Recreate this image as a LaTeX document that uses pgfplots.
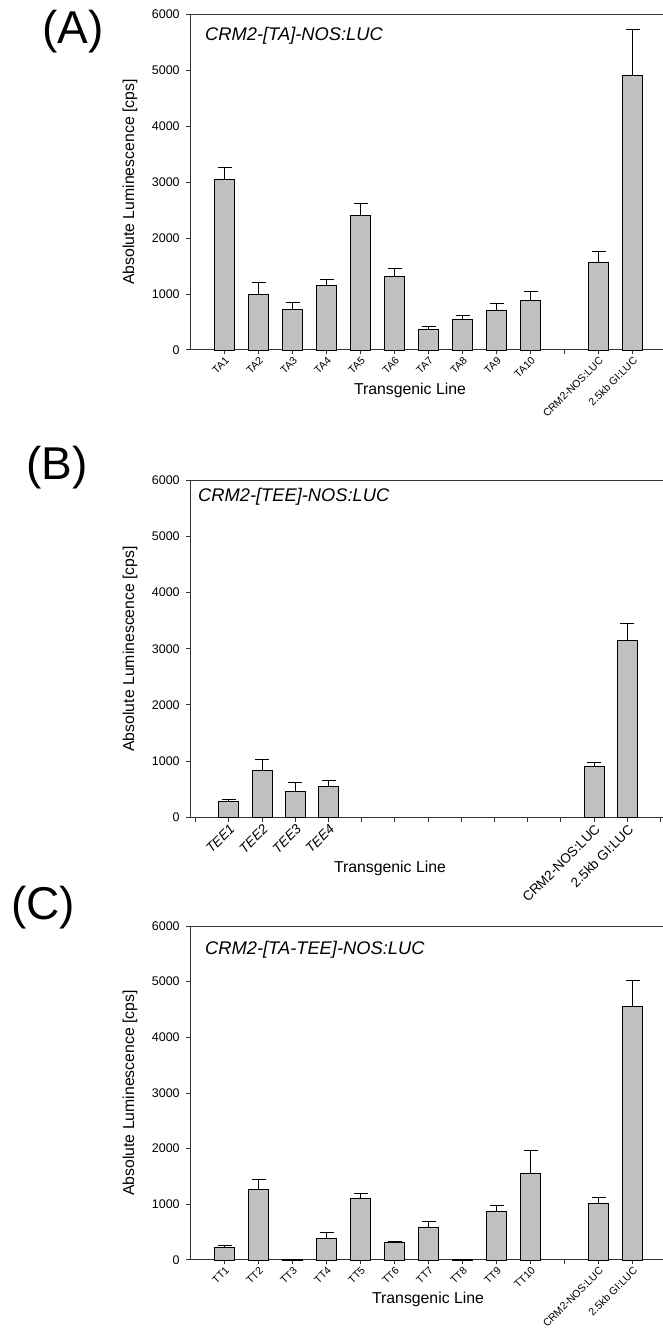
\documentclass[border=0pt]{standalone}
\usepackage{pgfplots}
\pgfplotsset{compat=1.18}
\usepackage{fontspec}
\setmainfont{Liberation Sans}
\definecolor{barfill}{HTML}{C0C0C0}

\pgfplotstableread{
x y e
1 3050 210
2 1000 200
3 727 130
4 1156 107
5 2400 220
6 1317 143
7 369 48
8 542 78
9 715 119
10 888 161
12 1573 191
13 4898 834
}\dataA

\pgfplotstableread{
x y e
1 285 30
2 831 190
3 463 154
4 552 101
12 908 65
13 3145 309
}\dataB

\pgfplotstableread{
x y e
1 228 30
2 1269 180
3 10 0
4 395 102
5 1102 84
6 311 24
7 593 102
8 10 0
9 874 108
10 1563 413
12 1018 102
13 4551 473
}\dataC

\pgfplotsset{
 panel/.style={
  scale only axis, width=473.5pt,
  ymin=0, ymax=6000, ytick={0,1000,...,6000},
  xtick pos=bottom, ytick pos=left, tick align=outside,
  major tick length=4.5pt,
  axis line style={line width=1pt, black!80},
  every tick/.style={line width=1pt, black!80},
  scaled y ticks=false,
  /pgf/number format/assume math mode=true,
  /pgf/number format/set thousands separator={},
  yticklabel style={font=\fontsize{12.5}{14}\selectfont, xshift=-3pt},
  every axis y label/.style={at={(axis description cs:-0.1282,0.5)},rotate=90,anchor=center,font=\fontsize{15.8}{18}\selectfont},
  ylabel={Absolute Luminescence [cps]},
  clip=false,
  xticklabel style={rotate=45, anchor=north east, inner sep=1pt},
 },
 bars/.style={ybar, bar width=0.6, fill=barfill, draw=black, line width=0.9pt,
   error bars/.cd, y dir=plus, y explicit,
   error bar style={line width=1pt, black},
   error mark options={rotate=90, mark size=7pt, line width=1pt, black}},
}

\begin{document}
\begin{tikzpicture}
\useasboundingbox (0pt,0pt) rectangle (662pt,1330pt);

% (A)
\begin{axis}[panel, at={(190.7pt,980pt)}, anchor=south west, height=335.7pt,
  xmin=0, xmax=13.93, xtick={1,...,13},
  xticklabels={TA1,TA2,TA3,TA4,TA5,TA6,TA7,TA8,TA9,TA10,{},CRM2-NOS:LUC,2.5kb GI:LUC},
  xticklabel style={font=\fontsize{10.5}{12}\selectfont}]
\addplot[bars] table[x=x, y=y, y error=e] {\dataA};
\node[anchor=west, inner sep=0pt, font=\fontsize{18.3}{22}\selectfont\itshape] at (axis description cs:0.0302,0.9363) {CRM2-[TA]-NOS:LUC};
\node[font=\fontsize{15.8}{18}\selectfont] at (axis description cs:0.4631,-0.1192) {Transgenic Line};
\end{axis}

% (B)
\begin{axis}[panel, at={(190.7pt,512.7pt)}, anchor=south west, height=337pt,
  xmin=-0.15, xmax=14.11, xtick={0,...,14},
  xticklabels={{},\textit{TEE1},\textit{TEE2},\textit{TEE3},\textit{TEE4},{},{},{},{},{},{},{},CRM2-NOS:LUC,2.5kb GI:LUC,{}},
  xticklabel style={font=\fontsize{13.5}{15}\selectfont}]
\addplot[bars] table[x=x, y=y, y error=e] {\dataB};
\node[anchor=west, inner sep=0pt, font=\fontsize{18.3}{22}\selectfont\itshape] at (axis description cs:0.0154,0.9504) {CRM2-[TEE]-NOS:LUC};
\node[font=\fontsize{15.8}{18}\selectfont] at (axis description cs:0.4209,-0.1504) {Transgenic Line};
\end{axis}

% (C)
\begin{axis}[panel, at={(190.7pt,70pt)}, anchor=south west, height=334pt,
  xmin=0, xmax=13.93, xtick={1,...,13},
  xticklabels={TT1,TT2,TT3,TT4,TT5,TT6,TT7,TT8,TT9,TT10,{},CRM2-NOS:LUC,2.5kb GI:LUC},
  xticklabel style={font=\fontsize{10.5}{12}\selectfont}]
\addplot[bars] table[x=x, y=y, y error=e] {\dataC};
\node[anchor=west, inner sep=0pt, font=\fontsize{18.3}{22}\selectfont\itshape] at (axis description cs:0.0302,0.928) {CRM2-[TA-TEE]-NOS:LUC};
\node[font=\fontsize{15.8}{18}\selectfont] at (axis description cs:0.5012,-0.1168) {Transgenic Line};
\end{axis}

\node[font=\fontsize{46}{50}\selectfont] at (73pt,1298pt) {(A)};
\node[font=\fontsize{46}{50}\selectfont] at (57pt,862pt) {(B)};
\node[font=\fontsize{46}{50}\selectfont] at (43pt,422pt) {(C)};
\end{tikzpicture}
\end{document}
